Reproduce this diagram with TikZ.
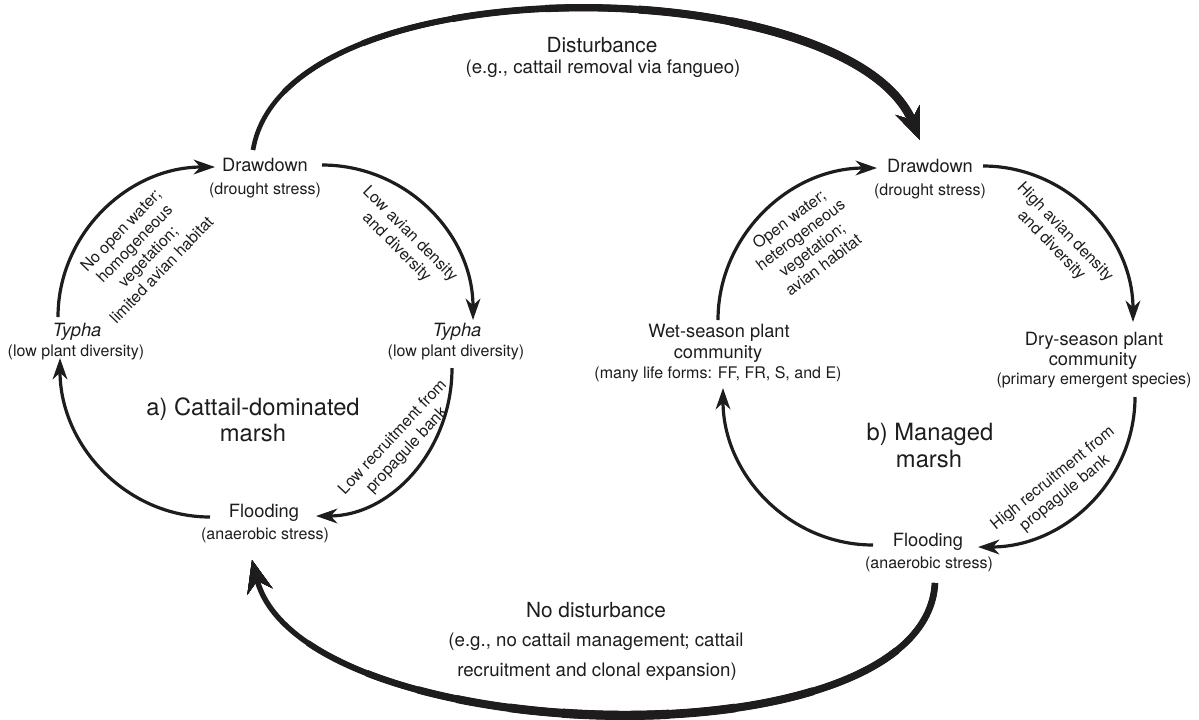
\documentclass[tikz,border=0pt]{standalone}
\usepackage{fontspec}
\setmainfont{TeX Gyre Heros}
\usetikzlibrary{arrows.meta}
\definecolor{ink}{RGB}{30,28,28}
\begin{document}
\begin{tikzpicture}[x=0.75pt,y=-0.75pt,
  every node/.style={text=ink, inner sep=0pt},
  main/.style={font=\fontsize{13.7}{16}\selectfont},
  sub/.style={font=\fontsize{12}{14}\selectfont},
  ttl/.style={font=\fontsize{17.8}{20}\selectfont},
  bigtxt/.style={font=\fontsize{15.6}{18}\selectfont},
  eg/.style={font=\fontsize{14}{17}\selectfont},
  lab/.style={font=\fontsize{12}{14.2}\selectfont, align=center},
  arr/.style={draw=ink, line width=2.4pt, -{Stealth[length=16pt,width=11pt,inset=5pt]}},
  bigarr/.style={draw=ink, -{Stealth[length=24pt,width=19pt,inset=8pt]}}]
\useasboundingbox (0,0) rectangle (1199,719);

% ---- left cycle: cattail-dominated marsh
\node[main] (dwL)  at (265,165) {Drawdown};
\node[sub]  (dwLs) at (265,190) {(drought stress)};
\node[main] (tyL)  at (77,332)  {\textit{Typha}};
\node[sub]  (tyLs) at (76,352)  {(low plant diversity)};
\node[main] (tyR)  at (457,332) {\textit{Typha}};
\node[sub]  (tyRs) at (456,352) {(low plant diversity)};
\node[main] (flL)  at (264,513) {Flooding};
\node[sub]  (flLs) at (265,535) {(anaerobic stress)};
\node[ttl]  (tA1)  at (253,409) {a) Cattail-dominated};
\node[ttl]  (tA2)  at (253,433) {marsh};

% ---- right cycle: managed marsh
\node[main] (dwR)  at (930,166)  {Drawdown};
\node[sub]  (dwRs) at (930,191)  {(drought stress)};
\node[main] (dry1) at (1094,341) {Dry-season plant};
\node[main] (dry2) at (1093,361) {community};
\node[sub]  (dry3) at (1094,380) {(primary emergent species)};
\node[main] (wet1) at (719,333)  {Wet-season plant};
\node[main] (wet2) at (718,354)  {community};
\node[sub]  (wet3) at (718,374)  {(many life forms: FF, FR, S, and E)};
\node[main] (flR)  at (928,542)  {Flooding};
\node[sub]  (flRs) at (929,564)  {(anaerobic stress)};
\node[ttl]  (tB1)  at (930,434)  {b) Managed};
\node[ttl]  (tB2)  at (929,459)  {marsh};

% ---- transitions
\node[bigtxt] (dist)  at (602,45)  {Disturbance};
\node[eg]     (distE) at (603,69)  {(e.g., cattail removal via fangueo)};
\node[bigtxt] (nod)   at (596,610) {No disturbance};
\node[eg]     (nodE1) at (596,642) {(e.g., no cattail management; cattail};
\node[eg]     (nodE2) at (597,672) {recruitment and clonal expansion)};

% ---- arc labels
\node[lab, rotate=46]  (lb1) at (141,250)  {No open water;\\homogeneous\\vegetation;\\limited avian habitat};
\node[lab, rotate=-45] (lb2) at (403,241)  {Low avian density\\and diversity};
\node[lab, rotate=47]  (lb3) at (400,444)  {Low recruitment from\\propagule bank};
\node[lab, rotate=37]  (lb4) at (806,242)  {Open water;\\heterogeneous\\vegetation;\\avian habitat};
\node[lab, rotate=-46] (lb5) at (1058,239) {High avian density\\and diversity};
\node[lab, rotate=39]  (lb6) at (1059,486) {High recruitment from\\propagule bank};

% ---- connector ends
\coordinate (a1s) at (322,165);  \coordinate (a1e) at (473,320);
\coordinate (a2s) at (452,368);  \coordinate (a2e) at (316,516);
\coordinate (a3s) at (210,517);  \coordinate (a3e) at (60,358);
\coordinate (a4s) at (58,317);   \coordinate (a4e) at (215,167);
\coordinate (b1s) at (983,166);  \coordinate (b1e) at (1133,322);
\coordinate (b2s) at (1135,397); \coordinate (b2e) at (978,547);
\coordinate (b3s) at (873,545);  \coordinate (b3e) at (723,388);
\coordinate (b4s) at (718,320);  \coordinate (b4e) at (877,168);
\coordinate (ds) at (253,150);   \coordinate (de) at (920,140);
\coordinate (ns) at (935,583);   \coordinate (ne) at (252,560);

\draw[arr] (a1s) .. controls +(84,0) and +(0,-86) .. (a1e);
\draw[arr] (a2s) .. controls +(0,82) and +(75,0) .. (a2e);
\draw[arr] (a3s) .. controls +(-83,0) and +(0,88) .. (a3e);
\draw[arr] (a4s) .. controls +(0,-83) and +(-87,0) .. (a4e);

\draw[arr] (b1s) .. controls +(83,0) and +(0,-86) .. (b1e);
\draw[arr] (b2s) .. controls +(0,83) and +(87,0) .. (b2e);
\draw[arr] (b3s) .. controls +(-83,0) and +(0,87) .. (b3e);
\draw[arr] (b4s) .. controls +(0,-84) and +(-88,0) .. (b4e);

% ---- Disturbance: thin at its start, thickening towards the head
\draw[bigarr, line width=3.5pt] (ds) .. controls (285,-40) and (850,-30) .. (de);
\foreach \w/\ph in {4.0/4950, 4.5/4880, 5.0/4810, 5.5/4740, 6.0/4670, 6.5/4600}
  \draw[bigarr, line width=\w pt,
        dash pattern=on 2000pt off 3000pt, dash phase=\ph pt]
    (ds) .. controls (285,-40) and (850,-30) .. (de);

% ---- No disturbance: thickest at the bottom of its course
\draw[bigarr, line width=4pt] (ns) .. controls (925,770) and (300,750) .. (ne);
\foreach \w/\on/\ph in {4.5/520/0, 5.0/470/0, 5.5/370/3310, 6.0/270/3140, 6.5/170/2980, 6.9/80/2840}
  \draw[bigarr, line width=\w pt,
        dash pattern=on \on pt off 3000pt, dash phase=\ph pt]
    (ns) .. controls (925,770) and (300,750) .. (ne);
\end{tikzpicture}
\end{document}
